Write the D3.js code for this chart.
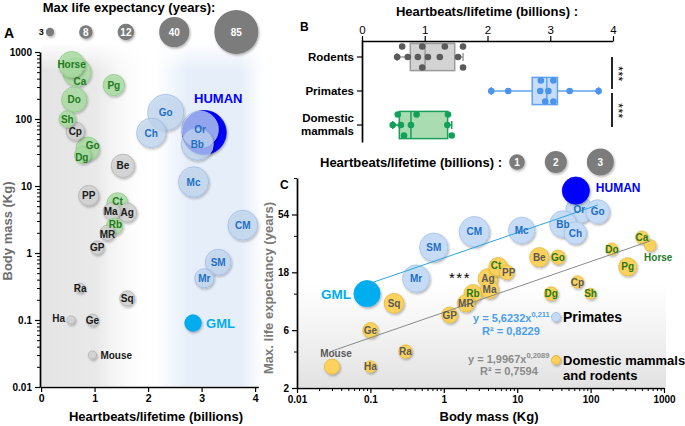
<!DOCTYPE html>
<html><head><meta charset="utf-8">
<script src="https://cdn.jsdelivr.net/npm/d3@7/dist/d3.min.js"></script>
<style>
html,body{margin:0;padding:0;background:#fff;}
svg{display:block;font-family:"Liberation Sans",Arial,Helvetica,sans-serif;}
</style></head><body>
<svg width="685" height="426"></svg>
<script>
// ---------------- DATA ----------------
const primateNames      = ["HUMAN","Or","Bb","Ch","Go","Mc","CM","SM","Mr","GML"];
const primateHeartbeats = [3.05,2.97,2.92,2.06,2.33,2.85,3.77,3.31,3.05,2.84];
const primateMass       = [63,70,42,62,125,11.5,2.6,0.73,0.42,0.09];
const primateLifespan   = [85,59,45,38,57,40,39,29,16,12];

const rodentNames       = ["Mouse","Ha","Ge","Ra","Sq","GP","MR","Ma","Ag","PP","Be","Cp"];
const rodentHeartbeats  = [0.96,0.56,0.96,0.73,1.61,1.05,1.24,1.32,1.61,0.89,1.53,0.64];
const rodentMass        = [0.03,0.1,0.1,0.3,0.21,1.2,2,4.2,4,7.2,20,66];
const rodentLifespan    = [3,3,6,4,10,8,10,13,16,18,24,15];

const domesticNames      = ["Horse","Ca","Pg","Do","Sh","Go","Dg","Ct","Rb"];
const domesticHeartbeats = [0.57,0.67,1.36,0.62,0.49,0.87,0.78,1.43,1.37];
const domesticMass       = [650,500,320,195,100,36,29,5.5,2.5];
const domesticLifespan   = [30,35,20,28,12,24,12,20,12];

const lifeLegend   = [3,8,12,40,85];
const beatsLegend  = [1,2,3];
const massTicks    = [0.01,0.1,1,10,100,1000];
const beatTicks    = [0,1,2,3,4];
const lifeTicks    = [2,6,18,54];
const lifeMinorTicks = [4,12,36,108];
const boxCategories = ["Rodents","Primates","Domestic mammals"];
const primateFitText = ["y = 5,6232x","0,211","R² = 0,8229"];
const otherFitText   = ["y = 1,9967x","0,2089","R² = 0,7594"];

// ---------------- BUILD ----------------
function build(names,hb,mass,life,group){
  return names.map((n,i)=>({name:n,hb:hb[i],mass:mass[i],life:life[i],group,id:group+n}));
}
const P = build(primateNames,primateHeartbeats,primateMass,primateLifespan,"P");
const R = build(rodentNames,rodentHeartbeats,rodentMass,rodentLifespan,"R");
const D = build(domesticNames,domesticHeartbeats,domesticMass,domesticLifespan,"D");
const ALL = [...P,...R,...D];
const kind = d => d.name==="HUMAN" ? "human" : (d.name==="GML" ? "gml" : d.group);

const FONT = '"Liberation Sans",Arial,sans-serif';
const svg = d3.select("svg");
const defs = svg.append("defs");
const flt = defs.append("filter").attr("id","sh").attr("x","-50%").attr("y","-50%").attr("width","200%").attr("height","200%");
flt.append("feDropShadow").attr("dx",1).attr("dy",1.5).attr("stdDeviation",1.1).attr("flood-color","#000").attr("flood-opacity",0.3);

function grad(id, vertical, stops){
  const g = defs.append("linearGradient").attr("id",id).attr("x1",0).attr("y1",0)
    .attr("x2",vertical?0:1).attr("y2",vertical?1:0);
  stops.forEach(s=>g.append("stop").attr("offset",s[0]).attr("stop-color",s[1]).attr("stop-opacity",s[2]));
}
grad("gGrey",false,[[0,"#e4e4e4",1],[0.5,"#e9e9e9",1],[1,"#ffffff",0]]);
grad("gBlue",false,[[0,"#e6eefa",0],[0.3,"#e6eefa",1],[0.78,"#e6eefa",1],[1,"#e6eefa",0]]);
grad("gTop",true,[[0,"#ffffff",1],[1,"#ffffff",0]]);
grad("gC",true,[[0,"#e6e6e6",0],[1,"#e2e2e2",1]]);

function styleAxis(g,size,bold){
  g.attr("font-family",FONT);
  g.select(".domain").attr("stroke","#000").attr("stroke-width",1.7);
  g.selectAll(".tick line").attr("stroke","#000").attr("stroke-width",1.2);
  g.selectAll(".tick text").attr("font-size",size).attr("font-weight",bold?"bold":"normal").attr("fill","#000");
}
function minor(g){ g.select(".domain").remove(); g.selectAll(".tick line").attr("stroke","#000").attr("stroke-width",1); }
function decadeMinors(lo,hi){ const out=[]; for(let e=lo;e<hi;e++){ for(let k=2;k<10;k++) out.push(k*Math.pow(10,e)); } return out; }
const fmtNum = d => String(d);

// ================= PANEL A =================
const xA = d3.scaleLinear().domain([-0.02,4.06]).range([40,258.3]);
const yA = d3.scaleLog().domain([0.01,1000]).range([387,52]);
const rA = d3.scaleSqrt().domain([0,85]).range([0,22]);

svg.append("rect").attr("x",41).attr("y",44).attr("width",112).attr("height",342).attr("fill","url(#gGrey)");
svg.append("rect").attr("x",156).attr("y",44).attr("width",108).attr("height",342).attr("fill","url(#gBlue)");
svg.append("rect").attr("x",41).attr("y",42).attr("width",225).attr("height",30).attr("fill","url(#gTop)");

const fillA = {P:"#c2d8f3",R:"#d4d4d4",D:"#aadda2",human:"#0000ff",gml:"#00aeef"};
const opA   = {P:0.72,R:0.85,D:0.8,human:1,gml:1};
const strA  = {P:"#9fbde2",R:"#b0b0b0",D:"#8fca86",human:"#0000dd",gml:"#00a0e0"};
const labA  = {P:"#1f6fc5",R:"#1a1a1a",D:"#1d7a1d",human:"#0000ff",gml:"#00aeef"};

svg.append("g").selectAll("circle").data(ALL.slice().sort((a,b)=>b.life-a.life)).join("circle")
  .attr("cx",d=>xA(d.hb)).attr("cy",d=>yA(d.mass)).attr("r",d=>rA(d.life))
  .attr("fill",d=>fillA[kind(d)]).attr("fill-opacity",d=>opA[kind(d)])
  .attr("stroke",d=>strA[kind(d)]).attr("stroke-width",0.8).attr("filter","url(#sh)");

const offA = {
  PHUMAN:{dx:14,dy:-34,a:"middle",s:13},
  PGML:{dx:13,dy:0,a:"start",s:13},
  RMouse:{dx:8,dy:0,a:"start"},
  RHa:{dx:-6,dy:-2,a:"end"},
  DCa:{dx:3,dy:9},
  DGo:{dx:5,dy:-3},
  DDg:{dx:-1,dy:2},
  DCt:{dx:0,dy:-2},
  RMa:{dx:-1,dy:0},
  DRb:{dx:1,dy:-2},
  RMR:{dx:0,dy:2}
};
svg.append("g").selectAll("text").data(ALL).join("text")
  .attr("x",d=>xA(d.hb)+((offA[d.id]||{}).dx||0))
  .attr("y",d=>yA(d.mass)+((offA[d.id]||{}).dy||0))
  .attr("dy","0.36em").attr("text-anchor",d=>(offA[d.id]||{}).a||"middle")
  .attr("font-family",FONT).attr("font-weight","bold")
  .attr("font-size",d=>(offA[d.id]||{}).s||10)
  .attr("fill",d=>labA[kind(d)]).text(d=>d.name);

// axes A
const axAx = svg.append("g").attr("transform","translate(0,387)")
  .call(d3.axisBottom(xA).tickValues(beatTicks).tickSize(5).tickSizeOuter(0).tickPadding(3).tickFormat(fmtNum));
styleAxis(axAx,10.5,true);
const axAyMin = svg.append("g").attr("transform","translate(40,0)")
  .call(d3.axisLeft(yA).tickValues(decadeMinors(-2,3)).tickSize(3).tickFormat(""));
minor(axAyMin);
const axAy = svg.append("g").attr("transform","translate(40,0)")
  .call(d3.axisLeft(yA).tickValues(massTicks).tickSize(5).tickSizeOuter(0).tickPadding(3).tickFormat(fmtNum));
styleAxis(axAy,10,true);

svg.append("text").attr("x",156).attr("y",421).attr("text-anchor","middle").attr("font-family",FONT)
  .attr("font-weight","bold").attr("font-size",13).text("Heartbeats/lifetime (billions)");
svg.append("text").attr("transform","translate(12,231) rotate(-90)").attr("text-anchor","middle").attr("font-family",FONT)
  .attr("font-weight","bold").attr("font-size",13).attr("fill","#6e6e6e").text("Body mass (Kg)");
svg.append("text").attr("x",4).attr("y",38).attr("font-family",FONT).attr("font-weight","bold").attr("font-size",14).text("A");

// legend A
svg.append("text").attr("x",129).attr("y",12).attr("text-anchor","middle").attr("font-family",FONT)
  .attr("font-weight","bold").attr("font-size",13).text("Max life expectancy (years):");
let cxL = 50; const legA = [];
lifeLegend.forEach((v,i)=>{ if(i>0) cxL += rA(lifeLegend[i-1]) + rA(v) + 25; legA.push({v,cx:cxL}); });
const gLA = svg.append("g");
gLA.selectAll("circle").data(legA).join("circle").attr("cx",d=>d.cx).attr("cy",32).attr("r",d=>rA(d.v))
  .attr("fill","#7b7b7b").attr("filter","url(#sh)");
gLA.selectAll("text").data(legA).join("text")
  .attr("x",(d,i)=>i===0? d.cx-rA(d.v)-2 : d.cx).attr("y",32).attr("dy","0.36em")
  .attr("text-anchor",(d,i)=>i===0?"end":"middle").attr("font-family",FONT).attr("font-weight","bold")
  .attr("font-size",(d,i)=>i===0?9:10).attr("fill",(d,i)=>i===0?"#000":"#fff").text(d=>d.v);

// ================= PANEL B =================
const xB = d3.scaleLinear().domain([0,4]).range([362,613]);
const yB = d3.scaleBand().domain(boxCategories).range([40,142]);
const groupsB = [
  {cat:"Rodents", data:R, fill:"#d3d3d3", stroke:"#9b9b9b", dot:"#5b5b5b"},
  {cat:"Primates", data:P, fill:"#c8ddfa", stroke:"#62a2f0", dot:"#4b93ec"},
  {cat:"Domestic mammals", data:D, fill:"#a9dcb1", stroke:"#1c9f5c", dot:"#12a05a"}
];
function pq(s,p){ const pos=(s.length+1)*p; const lo=Math.floor(pos); const f=pos-lo;
  if(lo<1) return s[0]; if(lo>=s.length) return s[s.length-1]; return s[lo-1]+f*(s[lo]-s[lo-1]); }
const gB = svg.append("g");
groupsB.forEach(G=>{
  const vals = G.data.map(d=>d.hb).sort(d3.ascending);
  const q1=pq(vals,0.25), med=pq(vals,0.5), q3=pq(vals,0.75), lo=vals[0], hi=vals[vals.length-1];
  const cy = yB(G.cat)+yB.bandwidth()/2, h = yB.bandwidth()*0.8;
  gB.append("line").attr("x1",xB(lo)).attr("x2",xB(q1)).attr("y1",cy).attr("y2",cy).attr("stroke",G.stroke).attr("stroke-width",1.5);
  gB.append("line").attr("x1",xB(q3)).attr("x2",xB(hi)).attr("y1",cy).attr("y2",cy).attr("stroke",G.stroke).attr("stroke-width",1.5);
  [lo,hi].forEach(v=>gB.append("line").attr("x1",xB(v)).attr("x2",xB(v)).attr("y1",cy-4).attr("y2",cy+4).attr("stroke",G.stroke).attr("stroke-width",1.5));
  gB.append("rect").attr("x",xB(q1)).attr("y",cy-h/2).attr("width",xB(q3)-xB(q1)).attr("height",h)
    .attr("fill",G.fill).attr("stroke",G.stroke).attr("stroke-width",1.5);
  gB.append("line").attr("x1",xB(med)).attr("x2",xB(med)).attr("y1",cy-h/2).attr("y2",cy+h/2).attr("stroke",G.stroke).attr("stroke-width",1.5);
  const placed=[]; const levels=[0,-1,1,-2,2];
  vals.forEach(v=>{ const px=xB(v);
    const L = levels.find(l=>!placed.some(p=>p.l===l && Math.abs(p.x-px)<7));
    placed.push({x:px,l:L}); });
  gB.selectAll(null).data(placed).join("circle").attr("cx",d=>d.x).attr("cy",d=>cy+d.l*10.5).attr("r",3.3).attr("fill",G.dot);
});
const axBx = svg.append("g").attr("transform","translate(0,41)")
  .call(d3.axisTop(xB).tickValues(beatTicks).tickSize(5).tickSizeOuter(0).tickPadding(2).tickFormat(fmtNum));
styleAxis(axBx,11.5,false);
const axBy = svg.append("g").attr("transform","translate(362,0)")
  .call(d3.axisLeft(yB).tickSize(5).tickSizeOuter(0).tickPadding(3));
styleAxis(axBy,11.5,true);
axBy.selectAll(".tick text").each(function(d){
  const t=d3.select(this); const parts=d.split(" ");
  if(parts.length>1){ t.text(null);
    t.append("tspan").attr("x",-8).attr("dy","-0.25em").text(parts[0]);
    t.append("tspan").attr("x",-8).attr("dy","1.15em").text(parts[1]); }
});
const cB = boxCategories.map(c=>yB(c)+yB.bandwidth()/2);
[[cB[0],cB[1]-2],[cB[1]+2,cB[2]+2]].forEach(s=>{
  svg.append("line").attr("x1",612).attr("x2",612).attr("y1",s[0]).attr("y2",s[1]).attr("stroke","#000").attr("stroke-width",1.7);
  svg.append("text").attr("transform",`translate(614,${(s[0]+s[1])/2+1}) rotate(90)`).attr("text-anchor","middle")
    .attr("font-family",FONT).attr("font-size",12).attr("letter-spacing",0.5).text("***");
});
svg.append("text").attr("x",487).attr("y",16).attr("text-anchor","middle").attr("font-family",FONT)
  .attr("font-weight","bold").attr("font-size",13).text("Heartbeats/lifetime (billions) :");
svg.append("text").attr("x",300).attr("y",31).attr("font-family",FONT).attr("font-weight","bold").attr("font-size",12).text("B");

// ================= PANEL C =================
const xC = d3.scaleLog().domain([0.01,1000]).range([297,664]);
const yC = d3.scaleLog().base(3).domain([2,108]).range([388,178]);
const rC = d3.scaleSqrt().domain([0,3]).range([0,13.5]);

svg.append("rect").attr("x",298).attr("y",283).attr("width",368).attr("height",104).attr("fill","url(#gC)");

function fit(arr){
  const xs=arr.map(d=>Math.log10(d.mass)), ys=arr.map(d=>Math.log10(d.life));
  const mx=d3.mean(xs), my=d3.mean(ys);
  const b=d3.sum(xs.map((x,i)=>(x-mx)*(ys[i]-my)))/d3.sum(xs.map(x=>(x-mx)*(x-mx)));
  const a=my-b*mx;
  const ext=d3.extent(arr,d=>d.mass);
  return ext.map(m=>({m, l:Math.pow(10,a+b*Math.log10(m))}));
}
const lineC = d3.line().x(p=>xC(p.m)).y(p=>yC(p.l));

const fillC = {P:"#c5dbf6",R:"#fcd25c",D:"#fcd25c",human:"#0000ff",gml:"#00aeef"};
const strC  = {P:"#a7c4ea",R:"#e6b93c",D:"#e6b93c",human:"#0000ff",gml:"#00aeef"};
const labC  = {P:"#1f6fc5",R:"#5a5a5a",D:"#1f7a1f",human:"#0000ff",gml:"#00aeef"};
const orderC = ALL.slice().sort((a,b)=>{
  if(a.name==="HUMAN") return 1; if(b.name==="HUMAN") return -1; return b.hb-a.hb; });
svg.append("g").selectAll("circle").data(orderC).join("circle")
  .attr("cx",d=>xC(d.mass)).attr("cy",d=>yC(d.life)).attr("r",d=>rC(d.hb))
  .attr("fill",d=>fillC[kind(d)]).attr("stroke",d=>strC[kind(d)]).attr("stroke-width",0.8)
  .attr("filter","url(#sh)");

svg.append("path").attr("d",lineC(fit(P))).attr("fill","none").attr("stroke","#2aa7e0").attr("stroke-width",1);
svg.append("path").attr("d",lineC(fit([...R,...D]))).attr("fill","none").attr("stroke","#8a8a8a").attr("stroke-width",1);

const offC = {
  PHUMAN:{dx:20,dy:-3,a:"start",s:12},
  PGML:{dx:-16,dy:0,a:"end",s:13.5},
  RMouse:{dx:4,dy:-13,a:"middle"},
  DHorse:{dx:8,dy:12,a:"middle"},
  DCt:{dx:-2,dy:-1},
  RPP:{dx:2,dy:0}
};
svg.append("g").selectAll("text").data(ALL).join("text")
  .attr("x",d=>xC(d.mass)+((offC[d.id]||{}).dx||0))
  .attr("y",d=>yC(d.life)+((offC[d.id]||{}).dy||0))
  .attr("dy","0.36em").attr("text-anchor",d=>(offC[d.id]||{}).a||"middle")
  .attr("font-family",FONT).attr("font-weight","bold")
  .attr("font-size",d=>(offC[d.id]||{}).s||10)
  .attr("fill",d=>labC[kind(d)]).text(d=>d.name);

// axes C
const axCxMin = svg.append("g").attr("transform","translate(0,388)")
  .call(d3.axisBottom(xC).tickValues(decadeMinors(-2,3)).tickSize(3).tickFormat(""));
minor(axCxMin);
const axCx = svg.append("g").attr("transform","translate(0,388)")
  .call(d3.axisBottom(xC).tickValues(massTicks).tickSize(5).tickSizeOuter(0).tickPadding(3).tickFormat(fmtNum));
styleAxis(axCx,10,true);
const axCyMin = svg.append("g").attr("transform","translate(297,0)")
  .call(d3.axisLeft(yC).tickValues(lifeMinorTicks).tickSize(3).tickFormat(""));
minor(axCyMin);
const axCy = svg.append("g").attr("transform","translate(297,0)")
  .call(d3.axisLeft(yC).tickValues(lifeTicks).tickSize(5).tickSizeOuter(0).tickPadding(3).tickFormat(fmtNum));
styleAxis(axCy,10,true);

svg.append("text").attr("x",489).attr("y",421).attr("text-anchor","middle").attr("font-family",FONT)
  .attr("font-weight","bold").attr("font-size",13).text("Body mass (Kg)");
svg.append("text").attr("transform","translate(273,288) rotate(-90)").attr("text-anchor","middle").attr("font-family",FONT)
  .attr("font-weight","bold").attr("font-size",13).attr("fill","#7a7a7a").text("Max. life expectancy (years)");
svg.append("text").attr("x",280).attr("y",189).attr("font-family",FONT).attr("font-weight","bold").attr("font-size",12).text("C");

// legend C
svg.append("text").attr("x",320).attr("y",167).attr("font-family",FONT).attr("font-weight","bold")
  .attr("font-size",13).text("Heartbeats/lifetime (billions) :");
let cxC = 517; const legC=[];
beatsLegend.forEach((v,i)=>{ if(i>0) cxC += rC(beatsLegend[i-1]) + rC(v) + 20; legC.push({v,cx:cxC}); });
const gLC = svg.append("g");
gLC.selectAll("circle").data(legC).join("circle").attr("cx",d=>d.cx).attr("cy",162).attr("r",d=>rC(d.v))
  .attr("fill","#7b7b7b").attr("filter","url(#sh)");
gLC.selectAll("text").data(legC).join("text").attr("x",d=>d.cx).attr("y",162).attr("dy","0.36em")
  .attr("text-anchor","middle").attr("font-family",FONT).attr("font-weight","bold").attr("font-size",10)
  .attr("fill","#fff").text(d=>d.v);

// annotations C
svg.append("text").attr("x",460).attr("y",283).attr("text-anchor","middle").attr("font-family",FONT)
  .attr("font-size",15).attr("letter-spacing",1.5).text("***");
function fitLabel(txt,x,y,x2,y2,color){
  const t=svg.append("text").attr("x",x).attr("y",y).attr("font-family",FONT).attr("font-weight","bold")
    .attr("font-size",11).attr("fill",color);
  t.append("tspan").text(txt[0]);
  t.append("tspan").attr("font-size",7.5).attr("dy",-5).text(txt[1]);
  svg.append("text").attr("x",x2).attr("y",y2).attr("font-family",FONT).attr("font-weight","bold")
    .attr("font-size",11).attr("fill",color).text(txt[2]);
}
fitLabel(primateFitText,473,322,482,335,"#4a9ff0");
fitLabel(otherFitText,468,363,480,375,"#8a8a8a");

svg.append("circle").attr("cx",556).attr("cy",317).attr("r",4.5).attr("fill","#c5dbf6").attr("stroke","#a7c4ea").attr("filter","url(#sh)");
svg.append("text").attr("x",563).attr("y",322).attr("font-family",FONT).attr("font-weight","bold").attr("font-size",14).text("Primates");
svg.append("circle").attr("cx",556).attr("cy",360).attr("r",4.5).attr("fill","#fcd25c").attr("stroke","#e6b93c").attr("filter","url(#sh)");
svg.append("text").attr("x",563).attr("y",365).attr("font-family",FONT).attr("font-weight","bold").attr("font-size",13).text("Domestic mammals");
svg.append("text").attr("x",563).attr("y",380).attr("font-family",FONT).attr("font-weight","bold").attr("font-size",13).text("and rodents");
</script>
</body></html>
